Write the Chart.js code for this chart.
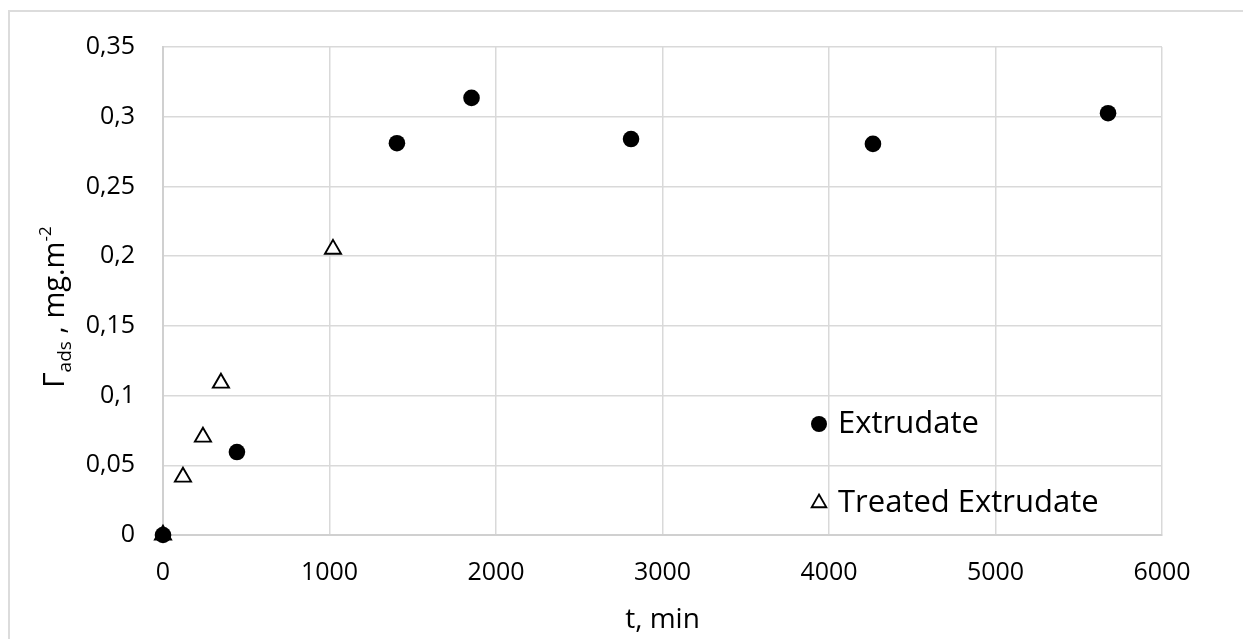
<!DOCTYPE html>
<html lang="en">
<head>
    <meta charset="UTF-8">
    <title>Adsorption kinetics</title>
    <script src="https://cdn.jsdelivr.net/npm/chart.js"></script>
    <style>
        body { margin: 0; background: #fff; }
        #wrap { position: relative; width: 1243px; height: 639px; }
        #frame { position: absolute; left: 8px; top: 10px; right: -4px; bottom: -4px;
                 border-top: 2px solid #dcdcdc; border-left: 2px solid #dcdcdc; }
        canvas { position: absolute; left: 0; top: 0; }
    </style>
</head>
<body>
<div id="wrap">
    <div id="frame"></div>
    <canvas id="myChart"></canvas>
</div>

<script>
    // t, min  /  Gamma ads, mg.m-2
    const extrudateT = [0, 444, 1405, 1853, 2811, 4264, 5676];
    const extrudateG = [0, 0.0595, 0.281, 0.3135, 0.284, 0.2805, 0.3025];

    const treatedT = [0, 120, 240, 348, 1021];
    const treatedG = [0, 0.0416, 0.0703, 0.109, 0.205];

    const yTickLabels = ['0', '0,05', '0,1', '0,15', '0,2', '0,25', '0,3', '0,35'];
    const xTickLabels = ['0', '1000', '2000', '3000', '4000', '5000', '6000'];

    const FONT = "'Open Sans', 'DejaVu Sans', sans-serif";

    function toPoints(xs, ys) {
        return xs.map((x, i) => ({ x: x, y: ys[i] }));
    }

    // y axis title with subscript / superscript, plus the legend inside the plot
    const extrasPlugin = {
        id: 'extras',
        afterDraw(chart) {
            const ctx = chart.ctx;
            const area = chart.chartArea;

            // y title
            ctx.save();
            ctx.fillStyle = '#000';
            ctx.textBaseline = 'alphabetic';
            ctx.textAlign = 'left';
            ctx.translate(64, 388);
            ctx.rotate(-Math.PI / 2);
            let x = 0;
            const parts = [
                { t: '\u0393', size: 30, dy: 0 },
                { t: 'ads', size: 19, dy: 7 },
                { t: ' , mg.m', size: 29, dy: 0 },
                { t: '-2', size: 17, dy: -13 }
            ];
            parts.forEach(p => {
                ctx.font = p.size + 'px ' + FONT;
                ctx.fillText(p.t, x, p.dy);
                x += ctx.measureText(p.t).width;
            });
            ctx.restore();

            // legend
            const items = [
                { label: 'Extrudate', style: 'circle', r: 8, bw: 0, fill: '#000', dy: -111 },
                { label: 'Treated Extrudate', style: 'triangle', r: 8.5, bw: 1.8, fill: '#fff', dy: -32 }
            ];
            const mx = area.right - 343;
            items.forEach(it => {
                const my = area.bottom + it.dy;
                ctx.save();
                ctx.fillStyle = it.fill;
                ctx.strokeStyle = '#000';
                ctx.lineWidth = it.bw;
                Chart.helpers.drawPoint(ctx, { pointStyle: it.style, radius: it.r, borderWidth: it.bw }, mx, my);
                ctx.restore();
                ctx.save();
                ctx.font = '31px ' + FONT;
                ctx.fillStyle = '#000';
                ctx.textBaseline = 'alphabetic';
                ctx.fillText(it.label, mx + 19, my + 9);
                ctx.restore();
            });
        }
    };

    const ctx = document.getElementById('myChart').getContext('2d');
    const chart = new Chart(ctx, {
        type: 'scatter',
        data: {
            datasets: [{
                label: 'Extrudate',
                data: toPoints(extrudateT, extrudateG),
                pointStyle: 'circle',
                pointRadius: 8.3,
                pointHoverRadius: 8.3,
                backgroundColor: '#000',
                borderColor: '#000',
                borderWidth: 0,
                clip: false
            }, {
                label: 'Treated Extrudate',
                data: toPoints(treatedT, treatedG),
                pointStyle: 'triangle',
                pointRadius: 9.3,
                pointHoverRadius: 9.3,
                backgroundColor: '#fff',
                borderColor: '#000',
                borderWidth: 1.9,
                clip: false
            }]
        },
        options: {
            responsive: true,
            maintainAspectRatio: false,
            animation: false,
            layout: {
                padding: { left: 0, top: 47, right: 81, bottom: 0 }
            },
            plugins: {
                legend: { display: false },
                tooltip: { enabled: false }
            },
            scales: {
                x: {
                    type: 'linear',
                    min: 0,
                    max: 6000,
                    afterFit: s => { s.height = 104; },
                    grid: { color: '#d9d9d9', lineWidth: 1.5, drawTicks: false },
                    border: { color: '#d0d0d0', width: 2 },
                    ticks: {
                        stepSize: 1000,
                        padding: 23,
                        color: '#000',
                        maxRotation: 0,
                        font: { family: FONT, size: 25 },
                        callback: (v, i) => xTickLabels[i]
                    },
                    title: {
                        display: true,
                        text: 't, min',
                        color: '#000',
                        font: { family: FONT, size: 28 },
                        padding: { top: 0, bottom: 2 }
                    }
                },
                y: {
                    min: 0,
                    max: 0.35,
                    afterFit: s => { s.width = 163; },
                    grid: { color: '#d9d9d9', lineWidth: 1.5, drawTicks: false },
                    border: { color: '#d0d0d0', width: 2 },
                    ticks: {
                        stepSize: 0.05,
                        padding: 28,
                        color: '#000',
                        font: { family: FONT, size: 25 },
                        callback: (v, i) => yTickLabels[i]
                    }
                }
            }
        },
        plugins: [extrasPlugin]
    });
</script>
</body>
</html>
